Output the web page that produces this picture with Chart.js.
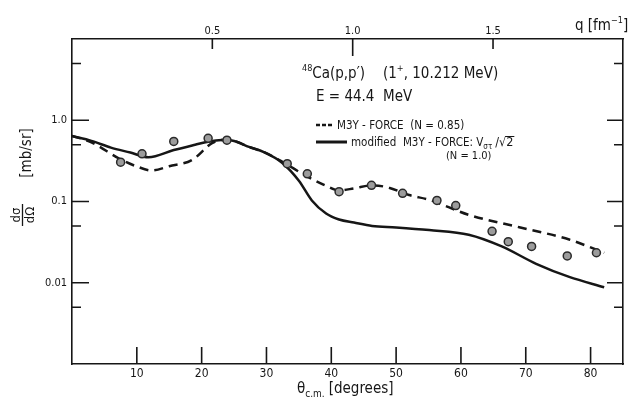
<!DOCTYPE html>
<html lang="en">
<head>
    <meta charset="UTF-8">
    <title>48Ca(p,p') cross section</title>
    <script src="https://cdn.jsdelivr.net/npm/chart.js@4/dist/chart.umd.min.js"></script>
    <style>
        body {
            margin: 0;
            background: #fff;
        }
        #wrap {
            width: 630px;
            height: 398px;
        }
    </style>
</head>
<body>
    <div id="wrap">
        <canvas id="xsChart" width="630" height="398"></canvas>
    </div>

    <script>
        // Measured points (theta c.m. in degrees, dsigma/dOmega in mb/sr)
        const expAngles = [7.5, 10.8, 15.7, 21.0, 23.9, 33.2, 36.3, 41.2, 46.2, 51.0, 56.3, 59.2, 64.8, 67.3, 70.9, 76.4, 80.9];
        const expSigma = [0.305, 0.386, 0.548, 0.60, 0.569, 0.292, 0.219, 0.132, 0.158, 0.126, 0.103, 0.089, 0.043, 0.032, 0.028, 0.0214, 0.0234];

        // M3Y-FORCE (N=0.85), dashed curve
        const m3yAngles = [0, 3, 7.5, 10, 12.3, 15, 18.5, 21.6, 23.1, 25, 27.3, 29.6, 32.4, 36.1, 39.2, 41.2, 43.5, 46.3, 48.9, 52, 55.1, 61.2, 69, 76.7, 82.1];
        const m3ySigma = [0.64, 0.535, 0.33, 0.27, 0.241, 0.272, 0.324, 0.522, 0.57, 0.555, 0.47, 0.405, 0.31, 0.207, 0.156, 0.137, 0.145, 0.158, 0.148, 0.12, 0.105, 0.0685, 0.0482, 0.034, 0.0234];

        // modified M3Y-FORCE (N=1.0), solid curve
        const modAngles = [0, 3, 6, 9, 11.8, 15.7, 19, 21, 23.1, 25, 27.3, 29.6, 32.4, 35, 37, 39.2, 41.2, 43.5, 46.3, 50, 55.1, 61.2, 66.3, 71.6, 76.7, 82.1];
        const modSigma = [0.64, 0.557, 0.46, 0.40, 0.35, 0.43, 0.50, 0.545, 0.57, 0.555, 0.47, 0.405, 0.30, 0.18, 0.103, 0.071, 0.060, 0.055, 0.050, 0.048, 0.0445, 0.039, 0.028, 0.0171, 0.0118, 0.0088];

        // Axis ticks
        const thetaTicks = [10, 20, 30, 40, 50, 60, 70, 80];
        const qTicks = [0.5, 1.0, 1.5];
        const yMajor = [0.01, 0.1, 1.0];
        const yMinor = [0.005, 0.05, 0.5, 5];
        const yLabels = { 0.01: '0.01', 0.1: '0.1', 1: '1.0' };

        const thetaMax = 85;
        const degPerFm = 43.3; // q = 1.0 fm^-1 sits at about 43.3 degrees

        const FONT = '"DejaVu Sans Condensed", "DejaVu Sans", sans-serif';
        const INK = '#161616';

        function toXY(xs, ys) {
            return xs.map((x, i) => ({ x: x, y: ys[i] }));
        }

        // draws a row of text pieces with their own size and vertical shift
        function drawRuns(ctx, x, y, runs) {
            runs.forEach(r => {
                ctx.font = r.size + 'px ' + FONT;
                ctx.fillText(r.t, x, y + (r.dy || 0));
                x += ctx.measureText(r.t).width + (r.gap || 0);
            });
            return x;
        }

        // inward ticks on all four sides
        const frameTicks = {
            id: 'frameTicks',
            afterDraw(chart) {
                const ctx = chart.ctx;
                const a = chart.chartArea;
                const s = chart.scales;
                ctx.save();
                ctx.strokeStyle = INK;
                ctx.lineWidth = 1.6;
                ctx.beginPath();
                thetaTicks.forEach(v => {
                    const px = s.x.getPixelForValue(v);
                    ctx.moveTo(px, a.bottom);
                    ctx.lineTo(px, a.bottom - 17);
                });
                qTicks.forEach(v => {
                    const px = s.x2.getPixelForValue(v);
                    ctx.moveTo(px, a.top);
                    ctx.lineTo(px, a.top + (v === 1.0 ? 17 : 10));
                });
                yMajor.forEach(v => {
                    const py = s.y.getPixelForValue(v);
                    ctx.moveTo(a.left, py);
                    ctx.lineTo(a.left + 17, py);
                    ctx.moveTo(a.right, py);
                    ctx.lineTo(a.right - 16, py);
                });
                yMinor.forEach(v => {
                    const py = s.y.getPixelForValue(v);
                    ctx.moveTo(a.left, py);
                    ctx.lineTo(a.left + 9, py);
                    ctx.moveTo(a.right, py);
                    ctx.lineTo(a.right - 9, py);
                });
                ctx.stroke();
                ctx.restore();
            }
        };

        // titles, annotation and hand-lettered legend
        const annotations = {
            id: 'annotations',
            afterDraw(chart) {
                const ctx = chart.ctx;
                ctx.save();
                ctx.fillStyle = INK;
                ctx.strokeStyle = INK;
                ctx.textBaseline = 'alphabetic';
                ctx.textAlign = 'left';

                // reaction label
                drawRuns(ctx, 302, 78, [
                    { t: '48', size: 9, dy: -7 },
                    { t: 'Ca(p,p\u2032)', size: 15, gap: 18 },
                    { t: '(1', size: 15 },
                    { t: '+', size: 9, dy: -7 },
                    { t: ', 10.212 MeV)', size: 15 }
                ]);
                drawRuns(ctx, 316, 101, [{ t: 'E = 44.4  MeV', size: 15 }]);

                // legend: dashed
                ctx.lineWidth = 2.5;
                ctx.setLineDash([4, 2]);
                ctx.beginPath();
                ctx.moveTo(316, 125);
                ctx.lineTo(333, 125);
                ctx.stroke();
                ctx.setLineDash([]);
                drawRuns(ctx, 337, 129, [{ t: 'M3Y - FORCE  (N = 0.85)', size: 11.5 }]);

                // legend: solid
                ctx.lineWidth = 3;
                ctx.beginPath();
                ctx.moveTo(316, 142);
                ctx.lineTo(347, 142);
                ctx.stroke();
                let x = drawRuns(ctx, 351, 146, [
                    { t: 'modified  M3Y - FORCE: V', size: 11.5 },
                    { t: '\u03c3\u03c4', size: 8, dy: 3, gap: 3 },
                    { t: '/\u221a', size: 12.5 }
                ]);
                ctx.font = '12.5px ' + FONT;
                ctx.fillText('2', x, 146);
                ctx.lineWidth = 1;
                ctx.beginPath();
                ctx.moveTo(x - 1, 136.5);
                ctx.lineTo(x + ctx.measureText('2').width + 1, 136.5);
                ctx.stroke();
                drawRuns(ctx, 446, 159, [{ t: '(N = 1.0)', size: 11 }]);

                // top axis unit
                drawRuns(ctx, 575, 30, [
                    { t: 'q [fm', size: 15 },
                    { t: '\u22121', size: 9, dy: -7 },
                    { t: ']', size: 15 }
                ]);

                // bottom axis title
                drawRuns(ctx, 297, 393, [
                    { t: '\u03b8', size: 15 },
                    { t: 'c.m.', size: 10, dy: 4, gap: 4 },
                    { t: '[degrees]', size: 15 }
                ]);

                // y axis title, rotated
                ctx.save();
                ctx.translate(27.5, 153);
                ctx.rotate(-Math.PI / 2);
                ctx.textAlign = 'center';
                ctx.textBaseline = 'middle';
                ctx.font = '15px ' + FONT;
                ctx.fillText('[mb/sr]', 0, 0);
                ctx.restore();

                ctx.save();
                ctx.translate(22, 215);
                ctx.rotate(-Math.PI / 2);
                ctx.textAlign = 'center';
                ctx.font = '13px ' + FONT;
                ctx.fillText('d\u03c3', 0, -2);
                ctx.fillText('d\u03a9', 0, 11.5);
                ctx.lineWidth = 1.3;
                ctx.beginPath();
                ctx.moveTo(-11, 0.5);
                ctx.lineTo(11, 0.5);
                ctx.stroke();
                ctx.restore();

                ctx.restore();
            }
        };

        const ctx = document.getElementById('xsChart').getContext('2d');
        const xsChart = new Chart(ctx, {
            type: 'scatter',
            data: {
                datasets: [{
                    label: 'data',
                    data: toXY(expAngles, expSigma),
                    backgroundColor: '#9c9c9c',
                    borderColor: '#2a2a2a',
                    borderWidth: 1.5,
                    pointRadius: 4,
                    order: 0
                }, {
                    label: 'M3Y-FORCE (N=0.85)',
                    type: 'line',
                    data: toXY(m3yAngles, m3ySigma),
                    borderColor: INK,
                    borderWidth: 2.5,
                    borderDash: [9, 6],
                    pointRadius: 0,
                    cubicInterpolationMode: 'monotone',
                    order: 1
                }, {
                    label: 'modified M3Y-FORCE',
                    type: 'line',
                    data: toXY(modAngles, modSigma),
                    borderColor: INK,
                    borderWidth: 2.5,
                    pointRadius: 0,
                    cubicInterpolationMode: 'monotone',
                    order: 2
                }]
            },
            options: {
                responsive: false,
                animation: false,
                layout: { padding: 0 },
                plugins: {
                    legend: { display: false },
                    tooltip: { enabled: false }
                },
                scales: {
                    x: {
                        type: 'linear',
                        position: 'bottom',
                        min: 0,
                        max: thetaMax,
                        afterBuildTicks: s => { s.ticks = thetaTicks.map(v => ({ value: v })); },
                        afterFit: s => { s.height = 34; },
                        grid: { display: false, drawTicks: false },
                        border: { display: true, color: INK, width: 1.6 },
                        ticks: {
                            padding: 3,
                            color: INK,
                            font: { family: FONT, size: 12 },
                            maxRotation: 0,
                            callback: v => String(v)
                        }
                    },
                    x2: {
                        type: 'linear',
                        position: 'top',
                        min: 0,
                        max: thetaMax / degPerFm,
                        afterBuildTicks: s => { s.ticks = qTicks.map(v => ({ value: v })); },
                        afterFit: s => { s.height = 39; },
                        grid: { display: false, drawTicks: false },
                        border: { display: true, color: INK, width: 1.6 },
                        ticks: {
                            padding: 1,
                            color: INK,
                            font: { family: FONT, size: 11 },
                            maxRotation: 0,
                            callback: v => v.toFixed(1)
                        }
                    },
                    y: {
                        type: 'logarithmic',
                        position: 'left',
                        min: 0.001,
                        max: 10,
                        afterBuildTicks: s => { s.ticks = yMajor.map(v => ({ value: v })); },
                        afterFit: s => { s.width = 72; },
                        grid: { display: false, drawTicks: false },
                        border: { display: true, color: INK, width: 1.6 },
                        ticks: {
                            padding: 5,
                            color: INK,
                            font: { family: FONT, size: 11 },
                            callback: v => yLabels[v] || ''
                        }
                    },
                    y2: {
                        type: 'logarithmic',
                        position: 'right',
                        min: 0.001,
                        max: 10,
                        afterFit: s => { s.width = 7; },
                        grid: { display: false, drawTicks: false },
                        border: { display: true, color: INK, width: 1.6 },
                        ticks: { display: false }
                    }
                }
            },
            plugins: [frameTicks, annotations]
        });
    </script>
</body>
</html>
